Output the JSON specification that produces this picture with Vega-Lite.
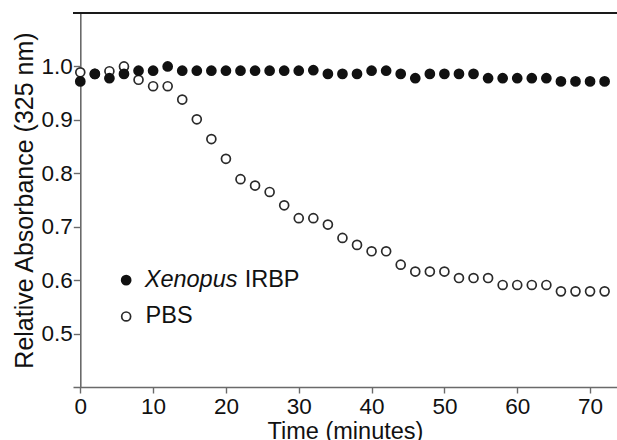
{
  "$schema": "https://vega.github.io/schema/vega-lite/v6.json",
  "autosize": "none",
  "width": 544,
  "height": 374,
  "padding": {"left": 73, "top": 13, "right": 0, "bottom": 53},
  "background": "white",
  "config": {
    "view": {"stroke": null},
    "font": "Liberation Sans",
    "axis": {
      "grid": false,
      "domainColor": "#6a6a6a",
      "domainWidth": 1.6,
      "tickColor": "#6a6a6a",
      "tickWidth": 1.4,
      "labelColor": "#111111",
      "labelFont": "Liberation Sans",
      "labelFontSize": 22.5,
      "titleFont": "Liberation Sans",
      "titleFontSize": 23.5,
      "titleFontWeight": "normal",
      "titleColor": "#111111"
    }
  },
  "datasets": {
    "main": [
      {"t": 0, "series": "PBS", "value": 0.989},
      {"t": 2, "series": "PBS", "value": 0.986},
      {"t": 4, "series": "PBS", "value": 0.991},
      {"t": 6, "series": "PBS", "value": 1.0},
      {"t": 8, "series": "PBS", "value": 0.975},
      {"t": 10, "series": "PBS", "value": 0.963},
      {"t": 12, "series": "PBS", "value": 0.963},
      {"t": 14, "series": "PBS", "value": 0.938},
      {"t": 16, "series": "PBS", "value": 0.901},
      {"t": 18, "series": "PBS", "value": 0.864},
      {"t": 20, "series": "PBS", "value": 0.827},
      {"t": 22, "series": "PBS", "value": 0.789},
      {"t": 24, "series": "PBS", "value": 0.777},
      {"t": 26, "series": "PBS", "value": 0.765},
      {"t": 28, "series": "PBS", "value": 0.740},
      {"t": 30, "series": "PBS", "value": 0.716},
      {"t": 32, "series": "PBS", "value": 0.716},
      {"t": 34, "series": "PBS", "value": 0.704},
      {"t": 36, "series": "PBS", "value": 0.679},
      {"t": 38, "series": "PBS", "value": 0.666},
      {"t": 40, "series": "PBS", "value": 0.654},
      {"t": 42, "series": "PBS", "value": 0.654},
      {"t": 44, "series": "PBS", "value": 0.629},
      {"t": 46, "series": "PBS", "value": 0.616},
      {"t": 48, "series": "PBS", "value": 0.616},
      {"t": 50, "series": "PBS", "value": 0.616},
      {"t": 52, "series": "PBS", "value": 0.604},
      {"t": 54, "series": "PBS", "value": 0.604},
      {"t": 56, "series": "PBS", "value": 0.604},
      {"t": 58, "series": "PBS", "value": 0.591},
      {"t": 60, "series": "PBS", "value": 0.591},
      {"t": 62, "series": "PBS", "value": 0.591},
      {"t": 64, "series": "PBS", "value": 0.591},
      {"t": 66, "series": "PBS", "value": 0.579},
      {"t": 68, "series": "PBS", "value": 0.579},
      {"t": 70, "series": "PBS", "value": 0.579},
      {"t": 72, "series": "PBS", "value": 0.579},
      {"t": 0, "series": "Xenopus IRBP", "value": 0.972},
      {"t": 2, "series": "Xenopus IRBP", "value": 0.986},
      {"t": 4, "series": "Xenopus IRBP", "value": 0.978},
      {"t": 6, "series": "Xenopus IRBP", "value": 0.986},
      {"t": 8, "series": "Xenopus IRBP", "value": 0.992},
      {"t": 10, "series": "Xenopus IRBP", "value": 0.992},
      {"t": 12, "series": "Xenopus IRBP", "value": 1.0},
      {"t": 14, "series": "Xenopus IRBP", "value": 0.992},
      {"t": 16, "series": "Xenopus IRBP", "value": 0.992},
      {"t": 18, "series": "Xenopus IRBP", "value": 0.992},
      {"t": 20, "series": "Xenopus IRBP", "value": 0.992},
      {"t": 22, "series": "Xenopus IRBP", "value": 0.992},
      {"t": 24, "series": "Xenopus IRBP", "value": 0.992},
      {"t": 26, "series": "Xenopus IRBP", "value": 0.992},
      {"t": 28, "series": "Xenopus IRBP", "value": 0.992},
      {"t": 30, "series": "Xenopus IRBP", "value": 0.992},
      {"t": 32, "series": "Xenopus IRBP", "value": 0.993},
      {"t": 34, "series": "Xenopus IRBP", "value": 0.986},
      {"t": 36, "series": "Xenopus IRBP", "value": 0.986},
      {"t": 38, "series": "Xenopus IRBP", "value": 0.986},
      {"t": 40, "series": "Xenopus IRBP", "value": 0.992},
      {"t": 42, "series": "Xenopus IRBP", "value": 0.992},
      {"t": 44, "series": "Xenopus IRBP", "value": 0.986},
      {"t": 46, "series": "Xenopus IRBP", "value": 0.978},
      {"t": 48, "series": "Xenopus IRBP", "value": 0.986},
      {"t": 50, "series": "Xenopus IRBP", "value": 0.986},
      {"t": 52, "series": "Xenopus IRBP", "value": 0.986},
      {"t": 54, "series": "Xenopus IRBP", "value": 0.986},
      {"t": 56, "series": "Xenopus IRBP", "value": 0.978},
      {"t": 58, "series": "Xenopus IRBP", "value": 0.978},
      {"t": 60, "series": "Xenopus IRBP", "value": 0.978},
      {"t": 62, "series": "Xenopus IRBP", "value": 0.978},
      {"t": 64, "series": "Xenopus IRBP", "value": 0.978},
      {"t": 66, "series": "Xenopus IRBP", "value": 0.972},
      {"t": 68, "series": "Xenopus IRBP", "value": 0.972},
      {"t": 70, "series": "Xenopus IRBP", "value": 0.972},
      {"t": 72, "series": "Xenopus IRBP", "value": 0.972}
    ],
    "legend": [
      {"series": "Xenopus IRBP", "italicPart": "Xenopus", "plainPart": "IRBP"},
      {"series": "PBS", "italicPart": "", "plainPart": "PBS"}
    ]
  },
  "layer": [
    {
      "data": {"name": "main"},
      "transform": [{"filter": "datum.series === 'PBS'"}],
      "mark": {"type": "point", "shape": "circle", "filled": true, "fill": "white", "stroke": "#2a2a2a", "strokeWidth": 1.7, "size": 80, "opacity": 1},
      "encoding": {
        "x": {
          "field": "t",
          "type": "quantitative",
          "scale": {"domain": [-1, 73.7], "nice": false, "zero": false},
          "axis": {
            "title": "Time (minutes)",
            "values": [0, 10, 20, 30, 40, 50, 60, 70],
            "tickSize": 6,
            "labelPadding": 2,
            "titlePadding": 2
          }
        },
        "y": {
          "field": "value",
          "type": "quantitative",
          "scale": {"domain": [0.4, 1.1], "nice": false, "zero": false},
          "axis": {
            "title": "Relative Absorbance (325 nm)",
            "titleFontSize": 25,
            "values": [0.5, 0.6, 0.7, 0.8, 0.9, 1.0],
            "format": ".1f",
            "tickSize": 7,
            "labelPadding": 1,
            "offset": -7.3,
            "titlePadding": 4
          }
        }
      }
    },
    {
      "data": {"name": "main"},
      "transform": [{"filter": "datum.series === 'Xenopus IRBP'"}],
      "mark": {"type": "point", "shape": "circle", "filled": true, "fill": "#111111", "strokeWidth": 0, "size": 115, "opacity": 1},
      "encoding": {
        "x": {"field": "t", "type": "quantitative"},
        "y": {"field": "value", "type": "quantitative"}
      }
    },
    {
      "data": {"name": "legend"},
      "transform": [{"filter": "datum.series === 'Xenopus IRBP'"}],
      "mark": {"type": "rule", "color": "#1a1a1a", "strokeWidth": 2},
      "encoding": {"y": {"datum": 1.1, "type": "quantitative"}}
    },
    {
      "data": {"name": "legend"},
      "transform": [{"filter": "datum.series === 'Xenopus IRBP'"}],
      "mark": {"type": "point", "shape": "circle", "filled": true, "fill": "#111111", "strokeWidth": 0, "size": 115, "opacity": 1},
      "encoding": {"x": {"datum": 6.3, "type": "quantitative"}, "y": {"datum": 0.6, "type": "quantitative"}}
    },
    {
      "data": {"name": "legend"},
      "transform": [{"filter": "datum.series === 'PBS'"}],
      "mark": {"type": "point", "shape": "circle", "filled": true, "fill": "white", "stroke": "#2a2a2a", "strokeWidth": 1.7, "size": 80, "opacity": 1},
      "encoding": {"x": {"datum": 6.3, "type": "quantitative"}, "y": {"datum": 0.532, "type": "quantitative"}}
    },
    {
      "data": {"name": "legend"},
      "transform": [{"filter": "datum.series === 'Xenopus IRBP'"}],
      "mark": {"type": "text", "font": "Liberation Sans", "fontSize": 23.5, "fontStyle": "italic", "align": "left", "baseline": "middle", "color": "#111111"},
      "encoding": {"text": {"field": "italicPart"}, "x": {"datum": 8.85, "type": "quantitative"}, "y": {"datum": 0.6, "type": "quantitative"}}
    },
    {
      "data": {"name": "legend"},
      "transform": [{"filter": "datum.series === 'Xenopus IRBP'"}],
      "mark": {"type": "text", "font": "Liberation Sans", "fontSize": 23.5, "align": "left", "baseline": "middle", "color": "#111111"},
      "encoding": {"text": {"field": "plainPart"}, "x": {"datum": 22.57, "type": "quantitative"}, "y": {"datum": 0.6, "type": "quantitative"}}
    },
    {
      "data": {"name": "legend"},
      "transform": [{"filter": "datum.series === 'PBS'"}],
      "mark": {"type": "text", "font": "Liberation Sans", "fontSize": 23.5, "align": "left", "baseline": "middle", "color": "#111111"},
      "encoding": {"text": {"field": "plainPart"}, "x": {"datum": 8.97, "type": "quantitative"}, "y": {"datum": 0.532, "type": "quantitative"}}
    }
  ]
}
